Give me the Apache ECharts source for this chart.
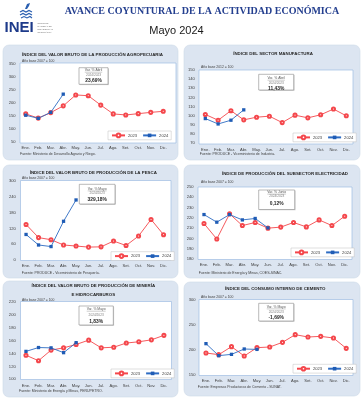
<!DOCTYPE html>
<html><head><meta charset="utf-8">
<script src="https://cdn.jsdelivr.net/npm/echarts@6/dist/echarts.min.js"></script>
<style>html,body{margin:0;padding:0;background:#fff}#c{width:364px;height:400px}</style>
</head><body><div id="c"></div>
<script>
// ---------- DATA ----------
const months = ['Ene.','Feb.','Mar.','Abr.','May.','Jun.','Jul.','Ago.','Set.','Oct.','Nov.','Dic.'];
const agro2023  = [158,142,163,189,231,228,192,158,154,159,164,168];
const agro2024  = [153,141,164,234];
const manu2023  = [101.5,95.2,105.6,95.6,98.5,99.6,92.6,100.7,97.8,101.1,107.4,100.0];
const manu2024  = [97.0,91.1,95.2,106.5];
const pesca2023 = [135,85,77,57,53,49,50,72,55,91,154,96];
const pesca2024 = [97,57,51,147,228];
const elec2023  = [214.5,199.4,223.9,212.5,215.5,210.0,211.0,215.5,211.2,218.0,212.5,221.6];
const elec2024  = [223.2,215.8,223.2,218.0,219.4,210.25];
const mine2023  = [137.5,129,145.5,149,154.3,161,149,150,156.5,158.5,161.5,168.5];
const mine2024  = [143.5,149.5,149,141.5,157.1];
const cem2023   = [194,190.7,206.7,188,204.7,206,215.3,230.7,226,227.3,224,203.3];
const cem2024   = [212.7,188.7,191.3,202,201.2];

const seriesNames = ['2023','2024'];
const titles = [
  ['ÍNDICE DEL VALOR BRUTO DE LA PRODUCCIÓN AGROPECUARIA'],
  ['ÍNDICE DEL SECTOR MANUFACTURA'],
  ['ÍNDICE DEL VALOR BRUTO DE PRODUCCIÓN DE LA PESCA'],
  ['ÍNDICE DE PRODUCCIÓN DEL SUBSECTOR ELECTRICIDAD'],
  ['ÍNDICE DEL VALOR BRUTO DE PRODUCCIÓN DE MINERÍA','E HIDROCARBUROS'],
  ['ÍNDICE DEL CONSUMO INTERNO DE CEMENTO']
];
const baseLabels = ['Año base 2007 = 100','Año base 2012 = 100','Año base 2007 = 100','Año base 2007 = 100','Año base 2007 = 100','Año base 2007 = 100'];
const sources = [
  'Fuente: Ministerio de Desarrollo Agrario y Riego.',
  'Fuente: PRODUCE - Viceministerio de Industria.',
  'Fuente: PRODUCE - Viceministerio de Pesquería.',
  'Fuente: Ministerio de Energía y Minas, COES-SINAC.',
  'Fuente: Ministerio de Energía y Minas, PERUPETRO.',
  'Fuente: Empresas Productoras de Cemento - SUNAT.'
];
const varLabels = ['Var. % Abril','Var. % Abril','Var. % Mayo','Var. % Junio','Var. % Mayo','Var. % Mayo'];
const varPeriod = '2024/2023';
const varValues = ['23,69%','11,43%','329,18%','0,12%','1,83%','-1,69%'];
const yScales = [[50,350,50],[70,150,10],[0,300,60],[180,250,10],[100,220,20],[150,300,50]];
const mainTitle = 'AVANCE COYUNTURAL DE LA ACTIVIDAD ECONÓMICA';
const subTitle = 'Mayo 2024';

const data2023 = [agro2023, manu2023, pesca2023, elec2023, mine2023, cem2023];
const data2024 = [agro2024, manu2024, pesca2024, elec2024, mine2024, cem2024];

// ---------- LAYOUT ----------
const L = [
  {bg:[3,45,175,115], plot:[20,63,156,80], grid:[19.5,64,150,78], t:[92.5,[54.3]], base:[22,60.7], src:[20,154.3],
   box:[79,67.7,29,16.6], bt:[70.3,74.7,80.7], leg:[108,131]},
  {bg:[184,45,176,115], plot:[199,70,154,74], grid:[198.9,70,153.8,73.3], t:[273,[54]], base:[201,67.5], src:[199.7,154],
   box:[258.7,74.3,35,15.7], bt:[78.3,82.7,88.3], leg:[293,133]},
  {bg:[3,165,175,113], plot:[20.5,180.5,150.5,80], grid:[19.8,181,150,79], t:[93.3,[172.3]], base:[22,178.3], src:[21.7,273.3],
   box:[79.3,184.3,35.7,19.7], bt:[189,193.3,200], leg:[111,251.7]},
  {bg:[184,165,176,113], plot:[198,187,154,72.5], grid:[197.6,187,153.5,72], t:[285,[173.3]], base:[201,181.7], src:[198.7,273],
   box:[258.7,190,36,19.5], bt:[192.2,196.4,203.5], leg:[291,248]},
  {bg:[3,281,175,116], plot:[20.5,301.5,151,78], grid:[19.7,302.3,150.5,77], t:[93.3,[286,294.3]], base:[22,299.6], src:[19,390.7],
   box:[79,306,34.3,19], bt:[309.3,314.7,321.3], leg:[111,369]},
  {bg:[184,282,176,114], plot:[199,299.5,154,76], grid:[199.6,300,153,75], t:[275.3,[288.3]], base:[201,297.3], src:[197.7,386.7],
   box:[258.7,303.3,35,17.7], bt:[307,311.7,318], leg:[293,364.3]}
];

const RED = '#f4474c', BLUE = '#2e6cc3', BLUE_D = '#1f5cb5';
const FF = '"Liberation Sans", Arial, sans-serif';

const mc = document.createElement('canvas').getContext('2d');
function tw(text, size, weight) { mc.font = (weight||'normal') + ' ' + size + 'px "Liberation Sans"'; return mc.measureText(text).width; }

function txt(text, x, y, size, opt) {
  opt = opt || {};
  return {type:'text', z: opt.z || 20, silent:true, style:{
    text, x, y, fontSize:size, fontFamily: opt.family || FF, fontWeight: opt.weight || 'normal',
    fill: opt.color || '#404040', textAlign: opt.align || 'left', align: opt.align || 'left',
    textVerticalAlign:'middle', verticalAlign:'middle'}};
}

const graphics = [];
const grids = [], xAxes = [], yAxes = [], series = [], legends = [];

L.forEach((p, i) => {
  graphics.push({type:'rect', z:0, silent:true, shape:{x:p.bg[0], y:p.bg[1], width:p.bg[2], height:p.bg[3], r:6},
    style:{fill:'#dce5f1', stroke:'#cfdae8', lineWidth:0.6}});
  graphics.push({type:'rect', z:1, silent:true, shape:{x:p.plot[0], y:p.plot[1], width:p.plot[2], height:p.plot[3]},
    style:{fill:'#ffffff', stroke:'#9fbde3', lineWidth:0.7}});
  titles[i].forEach((t, k) => graphics.push(txt(t, p.t[0], p.t[1][k], 4.4, {weight:'bold', align:'center', color:'#262626'})));
  graphics.push(txt(baseLabels[i], p.base[0], p.base[1], 3.4, {color:'#404040'}));
  graphics.push(txt(sources[i], p.src[0], p.src[1], 3.5, {color:'#404040'}));
  // variation box
  const b = p.box, cx = b[0] + b[2]/2;
  graphics.push({type:'rect', z:19, silent:true, shape:{x:b[0]+0.8, y:b[1]+0.8, width:b[2], height:b[3]}, style:{fill:'#c9c9c9'}});
  graphics.push({type:'rect', z:19, silent:true, shape:{x:b[0], y:b[1], width:b[2], height:b[3]}, style:{fill:'#ffffff', stroke:'#8c8c8c', lineWidth:0.6}});
  graphics.push(txt(varLabels[i], cx, p.bt[0], 3.4, {align:'center', color:'#595959'}));
  const w = tw(varLabels[i], 3.4);
  graphics.push({type:'line', z:20, silent:true, shape:{x1:cx-w/2, y1:p.bt[0]+1.9, x2:cx+w/2, y2:p.bt[0]+1.9}, style:{stroke:'#595959', lineWidth:0.3}});
  graphics.push(txt(varPeriod, cx, p.bt[1], 3.2, {align:'center', color:'#7f7f7f'}));
  graphics.push(txt(varValues[i], cx, p.bt[2], 4.9, {align:'center', weight:'bold', color:'#262626'}));

  grids.push({left:p.grid[0], top:p.grid[1], width:p.grid[2], height:p.grid[3], containLabel:false});
  xAxes.push({type:'category', gridIndex:i, data:months, boundaryGap:true,
    axisLine:{show:false}, axisTick:{show:false}, splitLine:{show:false},
    axisLabel:{interval:0, fontSize:4.1, color:'#404040', margin:4.2, fontFamily:FF}});
  yAxes.push({type:'value', gridIndex:i, min:yScales[i][0], max:yScales[i][1], interval:yScales[i][2],
    axisLine:{show:false}, axisTick:{show:false}, splitLine:{show:false},
    axisLabel:{fontSize:4.1, color:'#404040', margin:4, fontFamily:FF}});
  series.push({type:'line', name:seriesNames[0], xAxisIndex:i, yAxisIndex:i, data:data2023[i],
    symbol:'emptyCircle', symbolSize:3.1, lineStyle:{width:0.9, color:RED}, itemStyle:{color:RED, borderWidth:0.6},
    z:3, animation:false});
  series.push({type:'line', name:seriesNames[1], xAxisIndex:i, yAxisIndex:i, data:data2024[i],
    symbol:'rect', symbolSize:3.3, lineStyle:{width:0.9, color:BLUE}, itemStyle:{color:BLUE_D},
    z:4, animation:false});
  legends.push({left:p.leg[0], top:p.leg[1], data:seriesNames, orient:'horizontal', itemWidth:13, itemHeight:4.5, itemGap:5,
    padding:[1.6,3,1.6,3], backgroundColor:'#ffffff', borderColor:'#bfbfbf', borderWidth:0.5, borderRadius:0,
    textStyle:{fontSize:4.1, color:'#404040', fontFamily:FF, padding:[0,0,0,-2]}, selectedMode:false, z:15});
});

// ---------- HEADER ----------
graphics.push(txt(mainTitle, 202, 11.3, 10, {family:'"Liberation Serif", "DejaVu Serif", serif', weight:'bold', align:'center', color:'#243f8f'}));
graphics.push(txt(subTitle, 176.5, 31.3, 11, {align:'center', color:'#1a1a1a'}));
graphics.push(txt('INEI', 4.5, 28, 15, {weight:'bold', color:'#1d3a8a'}));
['INSTITUTO','NACIONAL DE','ESTADÍSTICA E','INFORMÁTICA'].forEach((s, k) =>
  graphics.push(txt(s, 37.5, 23.8 + k*2.8, 2.1, {color:'#6f6f6f'})));
// logo emblem
graphics.push({type:'polyline', z:20, silent:true, shape:{points:[[20,12],[23,10.5],[26,12],[29,10.5],[32,12]]}, style:{stroke:'#2a5fb0', lineWidth:1.3, fill:null}});
graphics.push({type:'polyline', z:20, silent:true, shape:{points:[[20,15],[23,13.5],[26,15],[29,13.5],[32,15]]}, style:{stroke:'#2a5fb0', lineWidth:1.3, fill:null}});
graphics.push({type:'polyline', z:20, silent:true, shape:{points:[[21,18],[24,16.5],[27,18],[30,16.5],[32,18]]}, style:{stroke:'#2a5fb0', lineWidth:1.1, fill:null}});
graphics.push({type:'polygon', z:20, silent:true, shape:{points:[[25,9],[27,4],[30,3],[29,6],[27,9]]}, style:{fill:'#2a5fb0'}});

const chart = echarts.init(document.getElementById('c'), null, {renderer:'canvas'});
chart.setOption({
  animation:false,
  backgroundColor:'#ffffff',
  grid:grids, xAxis:xAxes, yAxis:yAxes, series, legend:legends,
  graphic:{elements:graphics}
});
</script></body></html>
